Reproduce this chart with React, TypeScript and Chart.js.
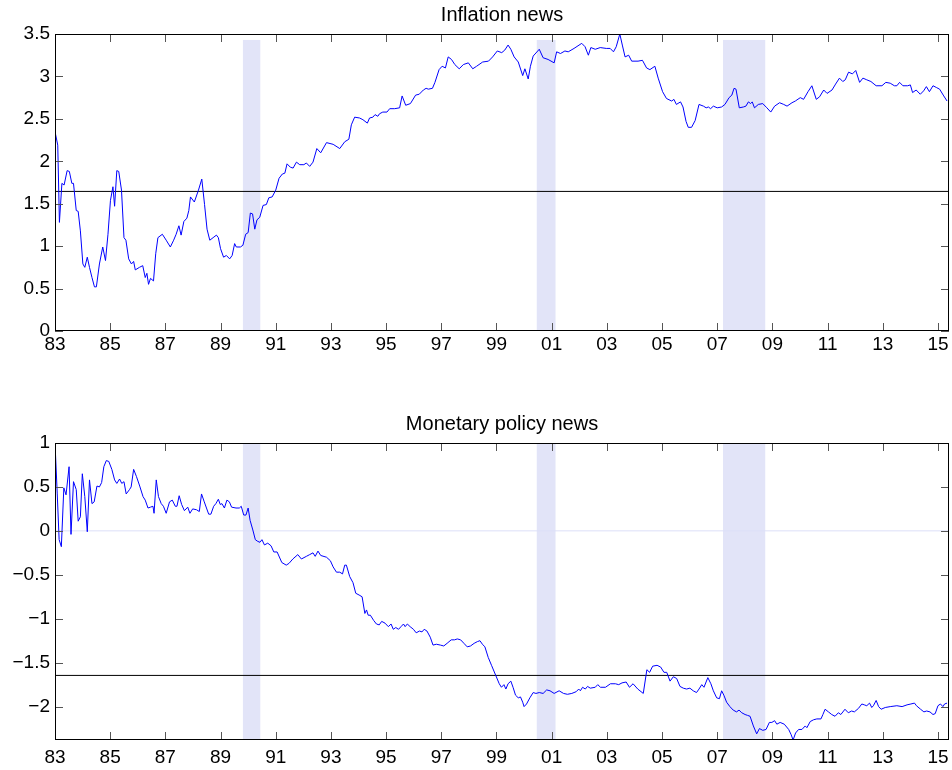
import { useEffect, useRef } from "react";
import { Chart, registerables } from "chart.js";

Chart.register(...registerables);

// ---------- data ----------
const xTickValues = [1983, 1985, 1987, 1989, 1991, 1993, 1995, 1997, 1999, 2001, 2003, 2005, 2007, 2009, 2011, 2013, 2015];
const xMin = 1983;
const xMax = 2015.4;

const recessionStart = [1989.81, 2000.46, 2007.21];
const recessionEnd = [1990.44, 2001.14, 2008.74];

const criticalValue = 1.645;

const inflationTicks = [0, 0.5, 1, 1.5, 2, 2.5, 3, 3.5];
const inflationMin = 0;
const inflationMax = 3.5;
const inflationBandTop = 3.43;

const policyTicks = [-2, -1.5, -1, -0.5, 0, 0.5, 1];
const policyMin = -2.38;
const policyMax = 1;

const inflationDates = [
  1983.0, 1983.1, 1983.16, 1983.25, 1983.33, 1983.44, 1983.52, 1983.61, 1983.67, 1983.77, 1983.84, 1983.92,
  1984.01, 1984.08, 1984.17, 1984.25, 1984.34, 1984.43, 1984.5, 1984.61, 1984.73, 1984.83, 1984.92,
  1985.01, 1985.1, 1985.16, 1985.24, 1985.31, 1985.41, 1985.5, 1985.57, 1985.67, 1985.77, 1985.85, 1985.91,
  1986.06, 1986.18, 1986.27, 1986.33, 1986.39, 1986.46, 1986.57, 1986.65, 1986.73, 1986.89,
  1987.03, 1987.18, 1987.3, 1987.39, 1987.49, 1987.57, 1987.67, 1987.78, 1987.85, 1987.91,
  1988.05, 1988.2, 1988.32, 1988.42, 1988.51, 1988.61, 1988.73, 1988.85, 1988.92,
  1989.0, 1989.11, 1989.21, 1989.33, 1989.42, 1989.51, 1989.57, 1989.72, 1989.81, 1989.91,
  1990.0, 1990.08, 1990.16, 1990.24, 1990.32, 1990.42, 1990.54, 1990.66, 1990.75, 1990.87,
  1991.0, 1991.12, 1991.24, 1991.33, 1991.41, 1991.53, 1991.63, 1991.75, 1991.87,
  1992.02, 1992.11, 1992.23, 1992.35, 1992.49, 1992.63, 1992.84,
  1993.08, 1993.32, 1993.5, 1993.65, 1993.74, 1993.86,
  1994.04, 1994.16, 1994.32, 1994.4, 1994.52, 1994.6, 1994.7, 1994.76, 1994.88,
  1995.03, 1995.13, 1995.31, 1995.49, 1995.58, 1995.71, 1995.88,
  1996.07, 1996.2, 1996.35, 1996.45, 1996.53, 1996.68, 1996.77, 1996.92,
  1997.03, 1997.15, 1997.25, 1997.37, 1997.49, 1997.65, 1997.8, 1997.98,
  1998.14, 1998.28, 1998.5, 1998.71, 1998.86,
  1999.03, 1999.19, 1999.3, 1999.42, 1999.52, 1999.64, 1999.79, 1999.95,
  2000.03, 2000.15, 2000.23, 2000.33, 2000.55, 2000.69, 2000.87,
  2001.09, 2001.18, 2001.32, 2001.48, 2001.6, 2001.81,
  2002.09, 2002.21, 2002.33, 2002.42, 2002.58, 2002.76, 2002.98,
  2003.12, 2003.24, 2003.34, 2003.47, 2003.56, 2003.66, 2003.79, 2003.9,
  2004.13, 2004.29, 2004.44, 2004.56, 2004.74, 2004.86,
  2005.02, 2005.16, 2005.35, 2005.43, 2005.52, 2005.67, 2005.76, 2005.87, 2005.95,
  2006.07, 2006.2, 2006.34, 2006.5, 2006.6, 2006.68, 2006.76, 2006.86,
  2007.0, 2007.16, 2007.28, 2007.43, 2007.53, 2007.61, 2007.68, 2007.8, 2007.95,
  2008.04, 2008.13, 2008.21, 2008.27, 2008.35, 2008.49, 2008.65, 2008.8, 2008.94,
  2009.08, 2009.26, 2009.41, 2009.53, 2009.71, 2009.83,
  2010.01, 2010.13, 2010.29, 2010.43, 2010.59, 2010.71, 2010.86, 2010.98,
  2011.16, 2011.29, 2011.43, 2011.55, 2011.64, 2011.76, 2011.9,
  2012.02, 2012.16, 2012.28, 2012.42, 2012.57, 2012.76, 2012.97,
  2013.11, 2013.27, 2013.42, 2013.51, 2013.61, 2013.73, 2013.9,
  2014.0, 2014.08, 2014.21, 2014.36, 2014.48, 2014.58, 2014.69, 2014.82, 2014.94,
  2015.06, 2015.21, 2015.33,
];
const inflationValues = [
  2.35, 2.19, 1.28, 1.74, 1.72, 1.89, 1.88, 1.74, 1.74, 1.42, 1.41, 1.18,
  0.79, 0.75, 0.87, 0.75, 0.63, 0.52, 0.52, 0.79, 0.99, 0.83, 1.14,
  1.54, 1.7, 1.47, 1.89, 1.88, 1.66, 1.1, 1.07, 0.85, 0.79, 0.82, 0.72,
  0.75, 0.77, 0.63, 0.68, 0.55, 0.62, 0.59, 0.91, 1.1, 1.14,
  1.07, 0.99, 1.07, 1.14, 1.24, 1.13, 1.29, 1.33, 1.42, 1.58,
  1.52, 1.66, 1.79, 1.49, 1.2, 1.07, 1.1, 1.13, 1.1,
  0.97, 0.87, 0.89, 0.85, 0.89, 1.03, 0.99, 0.99, 1.01, 1.14,
  1.16, 1.39, 1.38, 1.2, 1.31, 1.34, 1.48, 1.49, 1.57, 1.58,
  1.66, 1.8, 1.85, 1.86, 1.97, 1.93, 1.92, 1.99, 1.96,
  1.96, 1.98, 1.94, 1.99, 2.15, 2.1, 2.22,
  2.2, 2.15, 2.23, 2.26, 2.43, 2.52,
  2.51, 2.49, 2.45, 2.51, 2.52, 2.55, 2.53, 2.56, 2.58,
  2.58, 2.62, 2.62, 2.63, 2.77, 2.66, 2.68,
  2.78, 2.79, 2.84, 2.86, 2.85, 2.86, 2.93, 3.08,
  3.12, 3.1, 3.23, 3.2, 3.14, 3.09, 3.14, 3.16,
  3.09, 3.12, 3.17, 3.18, 3.23,
  3.3, 3.28, 3.31, 3.37, 3.32, 3.23, 3.17, 3.01,
  3.09, 2.97, 3.12, 3.24, 3.32, 3.22, 3.2,
  3.16, 3.29, 3.27, 3.3, 3.29, 3.33,
  3.39, 3.35, 3.25, 3.34, 3.32, 3.34, 3.33,
  3.33, 3.29, 3.35, 3.5, 3.37, 3.23, 3.25, 3.18,
  3.18, 3.19, 3.1, 3.08, 3.12, 2.98,
  2.82, 2.74, 2.71, 2.73, 2.67, 2.7, 2.64, 2.47, 2.4,
  2.4, 2.48, 2.67, 2.65, 2.63, 2.64, 2.62, 2.65,
  2.63, 2.64, 2.67, 2.75, 2.78, 2.86, 2.85, 2.63, 2.64,
  2.65, 2.7, 2.68, 2.7, 2.63, 2.67, 2.68, 2.63, 2.58,
  2.65, 2.69, 2.67, 2.65, 2.69, 2.71,
  2.75, 2.73, 2.82, 2.89, 2.73, 2.76, 2.84, 2.8,
  2.84, 2.91, 2.98, 2.94, 2.96, 3.05, 3.03,
  3.07, 2.93, 2.98, 2.96, 2.94, 2.89, 2.89,
  2.93, 2.92, 2.89, 2.89, 2.93, 2.89, 2.89,
  2.9, 2.81, 2.84, 2.79, 2.83, 2.88, 2.82, 2.89, 2.87,
  2.85, 2.77, 2.71,
];

const policyDates = [
  1983.0, 1983.08, 1983.15, 1983.23, 1983.32, 1983.4, 1983.51, 1983.58, 1983.67, 1983.77, 1983.84, 1983.92,
  1983.99, 1984.08, 1984.17, 1984.25, 1984.34, 1984.42, 1984.52, 1984.61, 1984.69, 1984.77, 1984.86, 1984.95,
  1985.06, 1985.16, 1985.24, 1985.34, 1985.42, 1985.5, 1985.58, 1985.7, 1985.76, 1985.85, 1985.95,
  1986.07, 1986.19, 1986.27, 1986.37, 1986.46, 1986.55, 1986.59, 1986.67, 1986.75, 1986.85, 1986.93,
  1987.03, 1987.15, 1987.25, 1987.36, 1987.42, 1987.5, 1987.59, 1987.69, 1987.81, 1987.89, 1987.99,
  1988.13, 1988.23, 1988.31, 1988.41, 1988.49, 1988.57, 1988.65, 1988.75, 1988.83, 1988.92, 1988.99,
  1989.05, 1989.14, 1989.23, 1989.32, 1989.4, 1989.56, 1989.68, 1989.75, 1989.84, 1989.92,
  1990.0, 1990.07, 1990.17, 1990.26, 1990.35, 1990.43, 1990.5, 1990.59, 1990.71, 1990.83, 1990.93,
  1991.05, 1991.22, 1991.38, 1991.48, 1991.62, 1991.8, 1991.93,
  1992.11, 1992.23, 1992.35, 1992.43, 1992.53, 1992.63, 1992.84, 1992.98,
  1993.08, 1993.2, 1993.32, 1993.42, 1993.5, 1993.56, 1993.68, 1993.8, 1993.9,
  1994.02, 1994.13, 1994.23, 1994.29, 1994.35, 1994.43, 1994.55, 1994.65, 1994.75, 1994.84, 1994.96,
  1995.08, 1995.18, 1995.26, 1995.35, 1995.45, 1995.54, 1995.63, 1995.69, 1995.77, 1995.87, 1995.99,
  1996.09, 1996.21, 1996.3, 1996.38, 1996.48, 1996.6, 1996.7, 1996.82, 1996.97,
  1997.09, 1997.21, 1997.36, 1997.48, 1997.58, 1997.7, 1997.82, 1997.94,
  1998.06, 1998.19, 1998.31, 1998.4, 1998.49, 1998.58, 1998.7, 1998.82, 1998.98,
  1999.1, 1999.18, 1999.27, 1999.34, 1999.42, 1999.52, 1999.6, 1999.69, 1999.79, 1999.87, 1999.95,
  2000.0, 2000.09, 2000.21, 2000.33, 2000.43, 2000.55, 2000.69, 2000.82, 2000.94,
  2001.09, 2001.27, 2001.43, 2001.57, 2001.73, 2001.89, 2001.98,
  2002.04, 2002.12, 2002.22, 2002.3, 2002.4, 2002.58, 2002.67, 2002.77, 2002.95,
  2003.13, 2003.31, 2003.43, 2003.55, 2003.7, 2003.82, 2003.95,
  2004.12, 2004.32, 2004.45, 2004.55, 2004.66, 2004.82, 2004.95,
  2005.07, 2005.17, 2005.29, 2005.41, 2005.53, 2005.65, 2005.77, 2005.89,
  2006.01, 2006.13, 2006.25, 2006.34, 2006.44, 2006.52, 2006.66, 2006.77, 2006.86, 2006.98,
  2007.08, 2007.16, 2007.24, 2007.34, 2007.46, 2007.58, 2007.7, 2007.79, 2007.89,
  2008.01, 2008.1, 2008.19, 2008.31, 2008.43, 2008.53, 2008.65, 2008.77, 2008.89, 2008.98,
  2009.08, 2009.16, 2009.28, 2009.43, 2009.59, 2009.68, 2009.75, 2009.84, 2009.95,
  2010.07, 2010.19, 2010.25, 2010.37, 2010.49, 2010.61, 2010.76, 2010.83, 2010.91,
  2011.03, 2011.15, 2011.27, 2011.39, 2011.48, 2011.63, 2011.75, 2011.87, 2011.97,
  2012.12, 2012.24, 2012.33, 2012.42, 2012.52, 2012.6, 2012.66, 2012.76, 2012.85, 2012.94,
  2013.09, 2013.27, 2013.51, 2013.7, 2013.88,
  2014.02, 2014.15, 2014.22, 2014.37, 2014.49, 2014.59, 2014.71, 2014.82, 2014.9,
  2015.0, 2015.09, 2015.18, 2015.24, 2015.33,
];
const policyValues = [
  1.0, 0.43, -0.1, -0.18, 0.49, 0.41, 0.73, -0.04, 0.56, 0.47, 0.11, 0.16,
  0.65, 0.39, -0.01, 0.58, 0.31, 0.33, 0.51, 0.5, 0.55, 0.73, 0.8, 0.79,
  0.7, 0.58, 0.54, 0.59, 0.54, 0.56, 0.42, 0.47, 0.5, 0.7, 0.62,
  0.51, 0.39, 0.35, 0.26, 0.27, 0.28, 0.2, 0.58, 0.39, 0.31, 0.28,
  0.2, 0.33, 0.35, 0.28, 0.28, 0.4, 0.3, 0.23, 0.27, 0.2, 0.25,
  0.24, 0.22, 0.42, 0.33, 0.26, 0.19, 0.19, 0.28, 0.31, 0.36, 0.3,
  0.31, 0.26, 0.35, 0.33, 0.27, 0.26, 0.26, 0.28, 0.18, 0.18,
  0.26, 0.12, 0.01, -0.1, -0.12, -0.13, -0.1, -0.16, -0.14, -0.17, -0.24,
  -0.24, -0.36, -0.39, -0.37, -0.32, -0.27, -0.32,
  -0.29, -0.27, -0.25, -0.29, -0.23, -0.28, -0.3, -0.34,
  -0.41, -0.47, -0.47, -0.49, -0.39, -0.39, -0.52, -0.59, -0.71,
  -0.73, -0.75, -0.94, -0.9, -0.96, -0.96, -1.02, -1.06, -1.07, -1.03, -1.05,
  -1.09, -1.06, -1.12, -1.1, -1.12, -1.09, -1.06, -1.09, -1.06, -1.09, -1.12,
  -1.16, -1.14, -1.15, -1.12, -1.14, -1.21, -1.3, -1.29, -1.3,
  -1.31, -1.28, -1.24, -1.24, -1.23, -1.24, -1.28, -1.32,
  -1.31, -1.28, -1.26, -1.25, -1.29, -1.32, -1.44, -1.53, -1.65,
  -1.74, -1.78, -1.75, -1.8, -1.74, -1.71, -1.78, -1.87, -1.9, -1.89, -1.95,
  -2.0, -1.97, -1.9, -1.84, -1.85, -1.84, -1.85, -1.81, -1.82,
  -1.85, -1.82, -1.85, -1.86, -1.85, -1.83, -1.8,
  -1.82, -1.78, -1.8, -1.77, -1.79, -1.78, -1.75, -1.78, -1.78,
  -1.74, -1.74, -1.75, -1.73, -1.72, -1.78, -1.74,
  -1.8, -1.85, -1.58, -1.61, -1.54, -1.53, -1.55,
  -1.61, -1.61, -1.71, -1.66, -1.68, -1.77, -1.79, -1.8,
  -1.79, -1.82, -1.84, -1.8, -1.75, -1.78, -1.67, -1.74, -1.82, -1.9,
  -1.91, -1.82, -1.87, -1.95, -2.0, -2.04, -2.06, -2.04, -2.07,
  -2.09, -2.1, -2.11, -2.22, -2.31, -2.25, -2.27, -2.26, -2.18, -2.18,
  -2.16, -2.2, -2.18, -2.2, -2.26, -2.32, -2.38, -2.3, -2.26,
  -2.26, -2.22, -2.24, -2.17, -2.15, -2.14, -2.14, -2.09, -2.03,
  -2.06, -2.09, -2.11, -2.07, -2.09, -2.03, -2.07, -2.05, -2.06,
  -2.02, -1.97, -1.98, -1.99, -1.96, -2.01, -1.99, -1.93, -2.0, -2.03,
  -2.01, -2.0, -1.99, -2.0, -1.98,
  -1.97, -1.96, -1.99, -2.03, -2.06, -2.05, -2.06, -2.09, -2.08,
  -1.99, -1.97, -2.0, -1.97, -1.96,
];

// ---------- styling ----------
const FONT = "'Liberation Sans', Arial, Helvetica, sans-serif";
const TICK_FONT_SIZE = 19;
const TITLE_FONT_SIZE = 20;
const LINE_BLUE = "#0000ff";
const BAND_COLOR = "#e2e4f8";
const ZERO_COLOR = "#dcdff8";
const TICK_LEN = 8;

Chart.defaults.font.family = FONT;
Chart.defaults.color = "#000";

const fmtTick = (v: number) => String(v).replace("-", "\u2212");

type PanelCfg = {
  title: string;
  titleY: number;
  dates: number[];
  values: number[];
  yMin: number;
  yMax: number;
  yTicks: number[];
  bandTop: number;
  hLines: number[];
  zeroLine: boolean;
  padTop: number;
  xAxisHeight: number;
  xLabelPad: number;
};

function makeChart(canvas: HTMLCanvasElement, cfg: PanelCfg) {
  const bandPlugin = {
    id: "bands",
    beforeDatasetsDraw(chart: any) {
      const { ctx, scales } = chart;
      const xs = scales.x;
      const ys = scales.y;
      ctx.save();
      ctx.fillStyle = BAND_COLOR;
      for (let i = 0; i < recessionStart.length; i++) {
        const x0 = xs.getPixelForValue(recessionStart[i]);
        const x1 = xs.getPixelForValue(recessionEnd[i]);
        const y0 = ys.getPixelForValue(cfg.bandTop);
        const y1 = ys.getPixelForValue(cfg.yMin);
        ctx.fillRect(x0, y0, x1 - x0, y1 - y0);
      }
      ctx.restore();
    },
  };

  const framePlugin = {
    id: "frame",
    afterDraw(chart: any) {
      const { ctx, chartArea, scales } = chart;
      const { left, right, top, bottom } = chartArea;
      ctx.save();
      ctx.lineWidth = 1;
      ctx.strokeStyle = "#555";
      ctx.beginPath();
      for (const v of xTickValues) {
        const px = Math.round(scales.x.getPixelForValue(v)) + 0.5;
        ctx.moveTo(px, bottom);
        ctx.lineTo(px, bottom - TICK_LEN);
        ctx.moveTo(px, top);
        ctx.lineTo(px, top + TICK_LEN);
      }
      for (const v of cfg.yTicks) {
        const py = Math.round(scales.y.getPixelForValue(v)) + 0.5;
        ctx.moveTo(left, py);
        ctx.lineTo(left + TICK_LEN, py);
        ctx.moveTo(right, py);
        ctx.lineTo(right - TICK_LEN, py);
      }
      ctx.stroke();
      ctx.strokeStyle = "#000";
      ctx.strokeRect(left + 0.5, top + 0.5, right - left - 1, bottom - top - 1);

      // panel title, centred over the plot area
      ctx.fillStyle = "#000";
      ctx.font = `normal ${TITLE_FONT_SIZE}px ${FONT}`;
      ctx.textAlign = "center";
      ctx.textBaseline = "middle";
      ctx.fillText(cfg.title, (left + right) / 2, cfg.titleY);
      ctx.restore();
    },
  };

  const datasets: any[] = [
    {
      data: cfg.dates.map((x, i) => ({ x, y: cfg.values[i] })),
      borderColor: LINE_BLUE,
      borderWidth: 1,
      pointRadius: 0,
      tension: 0,
      fill: false,
    },
  ];
  for (const h of cfg.hLines) {
    datasets.push({
      data: [
        { x: xMin, y: h },
        { x: xMax, y: h },
      ],
      borderColor: "#000",
      borderWidth: 1,
      pointRadius: 0,
      fill: false,
    });
  }
  if (cfg.zeroLine) {
    datasets.push({
      data: [
        { x: xMin, y: 0 },
        { x: xMax, y: 0 },
      ],
      borderColor: ZERO_COLOR,
      borderWidth: 1,
      pointRadius: 0,
      fill: false,
    });
  }

  return new Chart(canvas, {
    type: "line",
    data: { datasets },
    plugins: [bandPlugin, framePlugin],
    options: {
      animation: false,
      responsive: false,
      devicePixelRatio: 1,
      events: [],
      layout: { padding: { top: cfg.padTop, right: 3, left: 0, bottom: 0 }, autoPadding: false },
      plugins: {
        legend: { display: false },
        tooltip: { enabled: false },
        title: { display: false },
      },
      scales: {
        x: {
          type: "linear",
          min: xMin,
          max: xMax,
          grid: { display: false, drawTicks: false },
          border: { display: false },
          ticks: {
            padding: cfg.xLabelPad,
            autoSkip: false,
            maxRotation: 0,
            minRotation: 0,
            color: "#000",
            font: { family: FONT, size: TICK_FONT_SIZE },
            callback: (v: any) => String(Math.round(Number(v)) % 100).padStart(2, "0"),
          },
          afterBuildTicks: (s: any) => {
            s.ticks = xTickValues.map((value) => ({ value }));
          },
          afterFit: (s: any) => {
            s.height = cfg.xAxisHeight;
            s.paddingLeft = 0;
            s.paddingRight = 0;
          },
        },
        y: {
          type: "linear",
          min: cfg.yMin,
          max: cfg.yMax,
          grid: { display: false, drawTicks: false },
          border: { display: false },
          ticks: {
            padding: 5,
            autoSkip: false,
            color: "#000",
            font: { family: FONT, size: TICK_FONT_SIZE },
            callback: (v: any) => fmtTick(Number(v)),
          },
          afterBuildTicks: (s: any) => {
            s.ticks = cfg.yTicks.map((value) => ({ value }));
          },
          afterFit: (s: any) => {
            s.width = 55;
            s.paddingTop = 0;
            s.paddingBottom = 0;
          },
        },
      },
    } as any,
  });
}

export default function App() {
  const topRef = useRef<HTMLCanvasElement | null>(null);
  const botRef = useRef<HTMLCanvasElement | null>(null);

  useEffect(() => {
    if (!topRef.current || !botRef.current) return;
    const c1 = makeChart(topRef.current, {
      title: "Inflation news",
      titleY: 15,
      dates: inflationDates,
      values: inflationValues,
      yMin: inflationMin,
      yMax: inflationMax,
      yTicks: inflationTicks,
      bandTop: inflationBandTop,
      hLines: [criticalValue],
      zeroLine: false,
      padTop: 34,
      xAxisHeight: 54,
      xLabelPad: 2,
    });
    const c2 = makeChart(botRef.current, {
      title: "Monetary policy news",
      titleY: 39,
      dates: policyDates,
      values: policyValues,
      yMin: policyMin,
      yMax: policyMax,
      yTicks: policyTicks,
      bandTop: policyMax,
      hLines: [-criticalValue],
      zeroLine: true,
      padTop: 58,
      xAxisHeight: 30,
      xLabelPad: 6.5,
    });
    return () => {
      c1.destroy();
      c2.destroy();
    };
  }, []);

  return (
    <div style={{ position: "absolute", left: 0, top: 0, width: 952, height: 770, background: "#fff" }}>
      <canvas ref={topRef} width={952} height={385} style={{ display: "block", width: 952, height: 385 }} />
      <canvas ref={botRef} width={952} height={385} style={{ display: "block", width: 952, height: 385 }} />
    </div>
  );
}
